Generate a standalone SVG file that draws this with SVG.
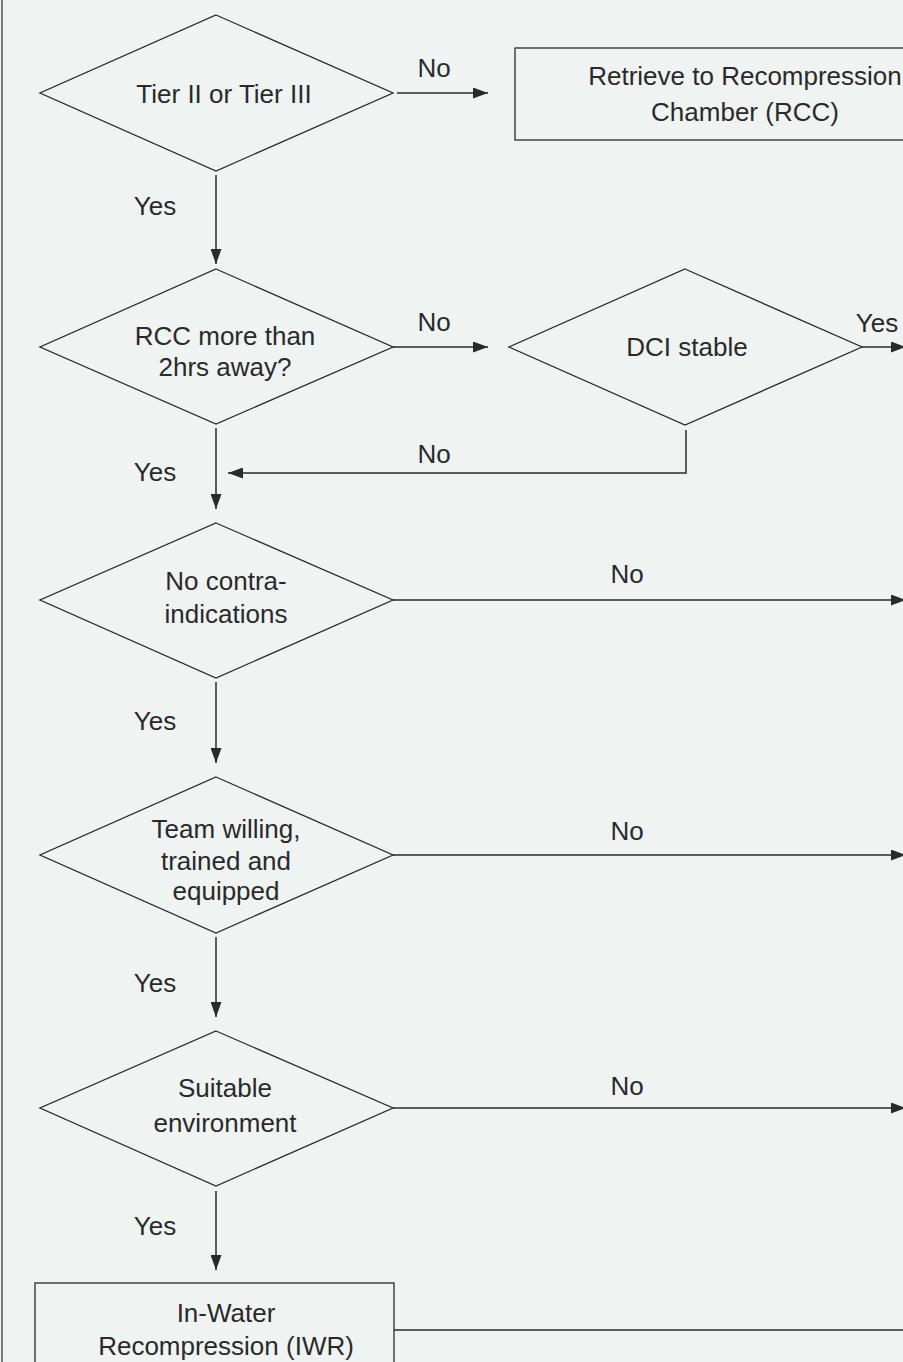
<svg xmlns="http://www.w3.org/2000/svg" width="903" height="1362" viewBox="0 0 903 1362">
  <defs>
    <marker id="arr" markerUnits="userSpaceOnUse" markerWidth="16" markerHeight="11" refX="15" refY="5.5" orient="auto">
      <path d="M0,0 L15,5.5 L0,11 Z" fill="#2a2a2a"/>
    </marker>
    <style>
      .shape { fill: none; stroke: #2a2a2a; stroke-width: 1.3; }
      .conn { fill: none; stroke: #2a2a2a; stroke-width: 1.5; }
      .arrow { marker-end: url(#arr); }
      text { font-family: "Liberation Sans", Arial, sans-serif; font-size: 26px; fill: #2a2a2a; }
      .c { text-anchor: middle; }
    </style>
  </defs>
  <rect x="0" y="0" width="903" height="1362" fill="#eff4f2"/>
  <line x1="2" y1="0" x2="2" y2="1362" stroke="#7a7a7a" stroke-width="2"/>

  <g id="connectors">
    <line class="conn arrow" x1="397" y1="93" x2="488" y2="93"/>
    <line class="conn arrow" x1="216" y1="175" x2="216" y2="264"/>
    <line class="conn arrow" x1="393" y1="347" x2="488" y2="347"/>
    <line class="conn arrow" x1="862" y1="347" x2="906" y2="347"/>
    <polyline class="conn arrow" points="686,430 686,473 228,473"/>
    <line class="conn arrow" x1="216" y1="428" x2="216" y2="509"/>
    <line class="conn arrow" x1="393" y1="600" x2="906" y2="600"/>
    <line class="conn arrow" x1="216" y1="682" x2="216" y2="763"/>
    <line class="conn arrow" x1="393" y1="855" x2="906" y2="855"/>
    <line class="conn arrow" x1="216" y1="937" x2="216" y2="1017"/>
    <line class="conn arrow" x1="393" y1="1108" x2="906" y2="1108"/>
    <line class="conn arrow" x1="216" y1="1191" x2="216" y2="1270"/>
    <line class="conn" x1="394" y1="1330" x2="903" y2="1330"/>
    <text x="434" y="77" class="c">No</text>
    <text x="155" y="215" class="c">Yes</text>
    <text x="434" y="331" class="c">No</text>
    <text x="877" y="332" class="c">Yes</text>
    <text x="434" y="463" class="c">No</text>
    <text x="155" y="481" class="c">Yes</text>
    <text x="627" y="583" class="c">No</text>
    <text x="155" y="730" class="c">Yes</text>
    <text x="627" y="840" class="c">No</text>
    <text x="155" y="992" class="c">Yes</text>
    <text x="627" y="1095" class="c">No</text>
    <text x="155" y="1235" class="c">Yes</text>
  </g>

  <g id="tier">
    <polygon class="shape" points="216,15 393,93 216,171 40,93"/>
    <text x="224" y="103" class="c">Tier II or Tier III</text>
  </g>
  <g id="retrieve">
    <rect class="shape" x="515" y="48" width="460" height="92"/>
    <text x="745" y="85" class="c">Retrieve to Recompression</text>
    <text x="745" y="121" class="c">Chamber (RCC)</text>
  </g>
  <g id="rcc-away">
    <polygon class="shape" points="216,269 393,347 216,424 40,347"/>
    <text x="225" y="345" class="c">RCC more than</text>
    <text x="225" y="376" class="c">2hrs away?</text>
  </g>
  <g id="dci-stable">
    <polygon class="shape" points="685,269 862,347 685,425 509,347"/>
    <text x="687" y="356" class="c">DCI stable</text>
  </g>
  <g id="contra">
    <polygon class="shape" points="216,523 393,600 216,678 40,600"/>
    <text x="226" y="590" class="c">No contra-</text>
    <text x="226" y="623" class="c">indications</text>
  </g>
  <g id="team">
    <polygon class="shape" points="216,777 393,855 216,933 40,855"/>
    <text x="226" y="838" class="c">Team willing,</text>
    <text x="226" y="870" class="c">trained and</text>
    <text x="226" y="900" class="c">equipped</text>
  </g>
  <g id="environment">
    <polygon class="shape" points="216,1031 393,1108 216,1186 40,1108"/>
    <text x="225" y="1097" class="c">Suitable</text>
    <text x="225" y="1132" class="c">environment</text>
  </g>
  <g id="iwr">
    <rect class="shape" x="35" y="1283" width="359" height="100"/>
    <text x="226" y="1322" class="c">In-Water</text>
    <text x="226" y="1355" class="c">Recompression (IWR)</text>
  </g>
</svg>
